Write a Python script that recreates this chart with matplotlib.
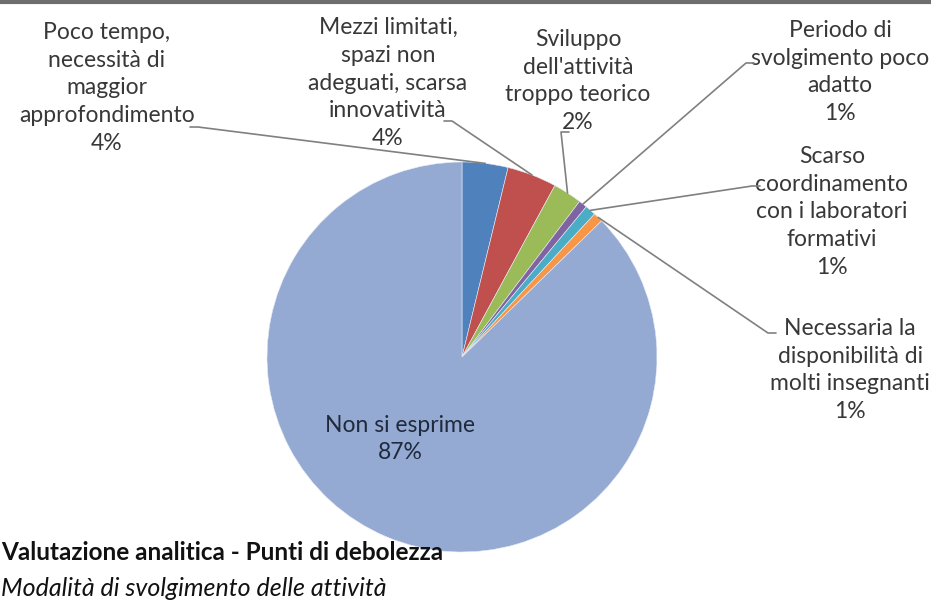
import numpy as np
import matplotlib
matplotlib.use('Agg')
import matplotlib.pyplot as plt
from matplotlib import rcParams

rcParams['font.family'] = ['Lato', 'DejaVu Sans']

# dati (percentuali)
categorie = [
    'Poco tempo,\nnecessità di\nmaggior\napprofondimento',
    'Mezzi limitati,\nspazi non\nadeguati, scarsa\ninnovatività',
    "Sviluppo\ndell'attività\ntroppo teorico",
    'Periodo di\nsvolgimento poco\nadatto',
    'Scarso\ncoordinamento\ncon i laboratori\nformativi',
    'Necessaria la\ndisponibilità di\nmolti insegnanti',
    'Non si esprime',
]
valori = [3.8, 4.1, 2.4, 0.7, 0.9, 0.8, 87.3]
colori = ['#4F81BD', '#C0504D', '#9BBB59', '#8064A2', '#4BACC6', '#F79646', '#95AAD3']

titolo = 'Valutazione analitica - Punti di debolezza'
sottotitolo = 'Modalità di svolgimento delle attività'

W, H = 931, 608
fig = plt.figure(figsize=(W / 100, H / 100), dpi=100)
ax = fig.add_axes([0, 0, 1, 1])

# centro e raggio della torta in pixel (y dal basso)
cx, cy, r = 462, H - 357, 195

wedges, _ = ax.pie(valori, colors=colori, startangle=90, counterclock=False,
                   center=(cx, cy), radius=r,
                   wedgeprops=dict(linewidth=0.4, edgecolor='#E8ECF4'))
ax.set_xlim(0, W)
ax.set_ylim(0, H)
ax.axis('off')

# posizione etichette (centro del blocco di testo, pixel dall'alto) e attacco della linea
etichette_pos = [
    (107, 88, (198, 127)),
    (388, 83, (452, 121)),
    (578, 81, (561, 132)),
    (840, 72, (746, 63)),
    (832, 212, (752, 186)),
    (850, 370, (768, 333)),
]

totale = sum(valori)
for i, (w, testo, v) in enumerate(zip(wedges, categorie, valori)):
    pct = f'{v / totale * 100:.0f}%'
    if i == len(valori) - 1:
        ax.text(400, H - 439, f'{testo}\n{pct}', ha='center', va='center',
                fontsize=16.5, color='#1F2A3C', linespacing=1.4)
        continue
    lx, ly, (ax_x, ax_y) = etichette_pos[i]
    ax.text(lx, H - ly, f'{testo}\n{pct}', ha='center', va='center',
            fontsize=16.5, color='#383838', linespacing=1.4)
    ang = np.deg2rad((w.theta1 + w.theta2) / 2)
    px, py = cx + r * np.cos(ang), cy + r * np.sin(ang)
    if ax_x > cx:
        stub = ax_x + 8
    else:
        stub = ax_x - 8
    ax.plot([stub, ax_x, px], [H - ax_y, H - ax_y, py], color='#808080', lw=1.2,
            solid_capstyle='round', zorder=5)

ax.text(1, H - 553, titolo, ha='left', va='center', fontsize=17.5,
        fontweight='bold', color='#111111', zorder=6)
ax.text(1, H - 588, sottotitolo, ha='left', va='center', fontsize=18,
        fontstyle='italic', color='#111111', zorder=6)

# bordo grigio in alto
ax.plot([0, W], [H - 1.5, H - 1.5], color='#6E6E6E', lw=3, zorder=7)

fig.savefig('out.png', dpi=100)
